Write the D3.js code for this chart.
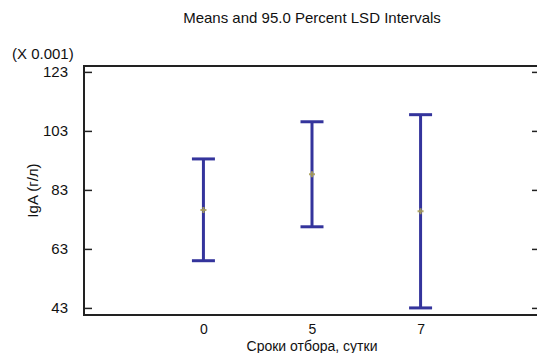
<!DOCTYPE html>
<html>
<head>
<meta charset="utf-8">
<script src="https://cdn.jsdelivr.net/npm/d3@7"></script>
<style>
  body { margin: 0; background: #fff; }
  text { font-family: "Liberation Sans", Arial, sans-serif; fill: #111; }
</style>
</head>
<body>
<svg id="chart"></svg>
<script>
// chart data (values in units of 0.001)
const days = ["0", "5", "7"];
const means = [76.2, 88.3, 75.8];
const lower = [59.0, 70.5, 43.0];
const upper = [93.5, 106.1, 108.5];
const yTicks = [43, 63, 83, 103, 123];

const W = 537, H = 353;
const margin = { top: 66, right: -3, bottom: 38, left: 84 };
const x0 = margin.left, x1 = W - margin.right,
      y0 = H - margin.bottom, y1 = margin.top;

const svg = d3.select("#chart").attr("width", W).attr("height", H);

const x = d3.scalePoint().domain(days).range([x0, x1]).padding(1.1);
const y = d3.scaleLinear().domain([40.6, 125]).range([y0, y1]);

const data = days.map((d, i) => ({ day: d, mean: means[i], lo: lower[i], hi: upper[i] }));

// frame
svg.append("rect")
  .attr("x", x0).attr("y", y1)
  .attr("width", x1 - x0).attr("height", y0 - y1)
  .attr("fill", "none").attr("stroke", "#222").attr("stroke-width", 2);

// left axis, ticks inside
const yl = svg.append("g")
  .attr("transform", `translate(${x0},0)`)
  .call(d3.axisLeft(y).tickValues(yTicks).tickSizeInner(-8).tickSizeOuter(0).tickPadding(16));
yl.select(".domain").remove();
yl.selectAll("line").attr("stroke", "#222").attr("stroke-width", 1.5);
yl.selectAll("text").style("font-size", "15px").attr("fill", "#111");

// right axis ticks
const yr = svg.append("g")
  .attr("transform", `translate(${x1},0)`)
  .call(d3.axisRight(y).tickValues(yTicks).tickSizeInner(-8).tickSizeOuter(0).tickFormat(""));
yr.select(".domain").remove();
yr.selectAll("line").attr("stroke", "#222").attr("stroke-width", 1.5);

// bottom axis labels
const xa = svg.append("g")
  .attr("transform", `translate(0,${y0})`)
  .call(d3.axisBottom(x).tickSize(0).tickPadding(9));
xa.select(".domain").remove();
xa.selectAll("text").style("font-size", "14px").attr("fill", "#111");

// intervals
const blue = "#34349c";
const cap = 11.5;
const g = svg.append("g");
g.selectAll(".stem").data(data).enter().append("line")
  .attr("x1", d => x(d.day)).attr("x2", d => x(d.day))
  .attr("y1", d => y(d.lo)).attr("y2", d => y(d.hi))
  .attr("stroke", blue).attr("stroke-width", 3);
g.selectAll(".capHi").data(data).enter().append("line")
  .attr("x1", d => x(d.day) - cap).attr("x2", d => x(d.day) + cap)
  .attr("y1", d => y(d.hi)).attr("y2", d => y(d.hi))
  .attr("stroke", blue).attr("stroke-width", 3);
g.selectAll(".capLo").data(data).enter().append("line")
  .attr("x1", d => x(d.day) - cap).attr("x2", d => x(d.day) + cap)
  .attr("y1", d => y(d.lo)).attr("y2", d => y(d.lo))
  .attr("stroke", blue).attr("stroke-width", 3);

// mean markers
g.selectAll(".mean").data(data).enter().append("path")
  .attr("d", d3.symbol(d3.symbolCross, 20))
  .attr("transform", d => `translate(${x(d.day)},${y(d.mean)})`)
  .attr("fill", "#a89e58").attr("opacity", 0.9);

// texts
svg.append("text")
  .attr("x", 312).attr("y", 23)
  .attr("text-anchor", "middle")
  .style("font-size", "15px")
  .text("Means and 95.0 Percent LSD Intervals");

svg.append("text")
  .attr("x", 12).attr("y", 59)
  .style("font-size", "15px")
  .text("(X 0.001)");

svg.append("text")
  .attr("transform", `translate(38,${(y0 + y1) / 2}) rotate(-90)`)
  .attr("text-anchor", "middle")
  .style("font-size", "15px")
  .text("IgA (г/л)");

svg.append("text")
  .attr("x", x(days[1])).attr("y", 350.5)
  .attr("text-anchor", "middle")
  .style("font-size", "14px")
  .text("Сроки отбора, сутки");
</script>
</body>
</html>
